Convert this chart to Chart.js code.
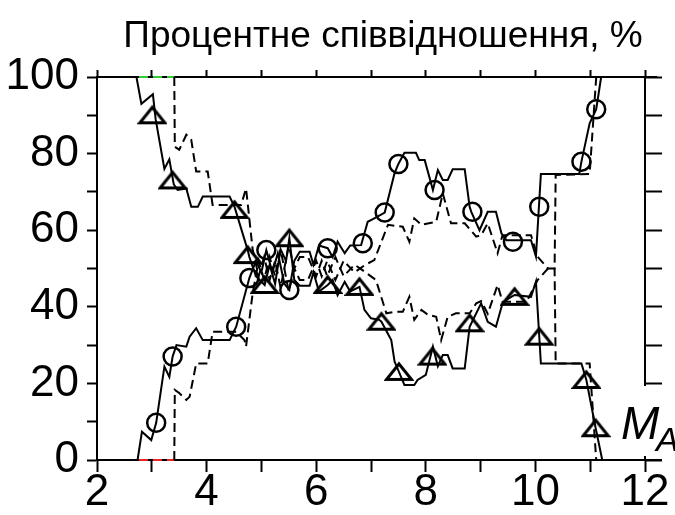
<!DOCTYPE html>
<html>
<head>
<meta charset="utf-8">
<script src="https://cdn.jsdelivr.net/npm/chart.js@4.4.1/dist/chart.umd.min.js"></script>
<style>
html,body{margin:0;padding:0;background:#fff;}
</style>
</head>
<body>
<canvas id="mycanvas" width="675" height="515"></canvas>
<script>
// solid line going down (with triangles)
var sdX = [2.0, 2.72, 2.81, 3.02, 3.07, 3.23, 3.32, 3.4, 3.47, 3.63, 3.72, 3.84, 3.93, 4.42, 4.51, 4.75,
  4.78, 4.9, 5.06, 5.15, 5.25, 5.35, 5.45, 5.51, 5.6, 5.7, 5.88, 5.95, 6.05, 6.21, 6.3, 6.39, 6.52, 6.62, 6.79,
  6.88, 7.0, 7.15, 7.19, 7.37, 7.43, 7.51, 7.61, 7.79, 7.85, 8.0, 8.13, 8.22, 8.31, 8.4, 8.49, 8.71, 8.8,
  9.01, 9.13, 9.28, 9.4, 9.47, 9.62, 9.92, 10.01, 10.1, 10.84, 10.93, 11.1, 11.22];
var sdY = [100, 100, 93, 95.5, 89, 76, 78.5, 72, 70.5, 70.9, 66.1, 66.1, 68.8, 68.8, 66.1, 54.8,
  53, 48, 45.7, 51, 46, 55, 52, 57.9, 47, 45.5, 45.5, 49, 44, 45.7, 47, 43, 46.5, 44, 45.2,
  39.2, 37, 36.6, 36.1, 31.3, 25.7, 23, 19.6, 19.6, 20.9, 22.2, 29.6, 24.5, 27.4, 27.4, 23.9, 23.9, 34.8,
  40.9, 36.1, 34.8, 40.9, 41.8, 43.1, 42.6, 46.6, 25.2, 25.2, 20.9, 8.3, 0];

// solid line going up (with circles)
var suX = [2.0, 2.74, 2.82, 2.99, 3.08, 3.23, 3.32, 3.38, 3.45, 3.63, 3.69, 3.81, 3.93, 4.42, 4.54, 4.78,
  4.9, 5.0, 5.09, 5.2, 5.3, 5.42, 5.51, 5.6, 5.7, 5.88, 5.95, 6.05, 6.21, 6.3, 6.39, 6.52, 6.62, 6.82,
  6.94, 7.06, 7.25, 7.43, 7.5, 7.61, 7.82, 7.88, 7.98, 8.13, 8.22, 8.31, 8.4, 8.49, 8.71, 8.8, 8.83,
  8.98, 9.13, 9.28, 9.38, 9.47, 9.59, 9.92, 10.01, 10.1, 10.8, 10.84, 10.99, 11.11, 11.2];
var suY = [0, 0, 7.4, 5.2, 9.7, 24.4, 21.7, 27, 30, 29.6, 32.2, 34.4, 31.3, 31.3, 34.8, 47.5,
  52, 49, 54.8, 49, 54, 46, 44.4, 52, 54.4, 54.4, 51, 56, 55.3, 53, 57, 54, 56, 56.1,
  62.2, 63.1, 64.6, 74.9, 77.3, 80.2, 80.2, 78.3, 78.3, 70.5, 75.7, 73.1, 73.1, 75.9, 75.9, 66.1, 64.8,
  60, 64.8, 64.8, 59.2, 57.4, 57.4, 57.4, 53.1, 74.7, 74.7, 77.9, 87.9, 91.6, 100];

// dashed line going down
var ddX = [2.0, 3.41, 3.42, 3.5, 3.63, 3.72, 3.81, 4.02, 4.11, 4.63, 4.72, 4.84, 4.95, 5.05, 5.15, 5.25,
  5.35, 5.5, 5.6, 5.7, 5.85, 6.0, 6.1, 6.2, 6.35, 6.5, 6.7, 6.9, 7.09, 7.28, 7.43, 7.58, 7.7, 7.79, 7.92,
  8.04, 8.19, 8.28, 8.4, 8.55, 8.8, 8.92, 9.01, 9.13, 9.31, 9.4, 9.84, 10.04, 10.23, 10.35, 10.37, 10.99,
  11.05, 11.11];
var ddY = [100, 100, 81.8, 81, 84.9, 83.6, 75.3, 75.3, 66.6, 66.6, 70.9, 55, 48, 53, 47, 52,
  45, 56, 50, 53, 53, 48, 52, 48, 53, 48, 51, 49, 47, 38.3, 38.7, 38.7, 42.6, 36.6, 39.2,
  37.9, 37.4, 31.3, 37.4, 38.3, 38.3, 40.9, 41.5, 38.2, 45.7, 41.3, 41.3, 47, 50, 50, 25.2, 25.2,
  12.6, 0];

// dashed line going up
var duX = [2.0, 3.41, 3.42, 3.5, 3.63, 3.69, 3.81, 4.02, 4.11, 4.54, 4.69, 4.72, 4.84, 4.95, 5.05, 5.15,
  5.25, 5.35, 5.5, 5.6, 5.7, 5.85, 6.0, 6.1, 6.2, 6.35, 6.5, 6.7, 6.9, 7.06, 7.31, 7.58, 7.7, 7.79, 7.92,
  8.19, 8.31, 8.46, 8.71, 8.92, 9.01, 9.13, 9.31, 9.4, 9.74, 9.92, 10.04, 10.23, 10.35, 10.37, 10.99,
  11.05, 11.11];
var duY = [0, 0, 18.3, 17.5, 15.7, 16.5, 25.2, 25.2, 33.5, 33.5, 31.3, 29.6, 43.5, 52, 47, 53,
  48, 55, 44, 50, 47, 47, 52, 48, 52, 47, 52, 49, 51, 52.2, 61.4, 60.9, 57, 63.1, 61.4,
  62.2, 69.6, 61.8, 61.8, 58.3, 58.7, 61.8, 54, 58.7, 58.7, 58.7, 53.1, 50, 50, 74.4, 74.7,
  87.4, 100];

// markers
var triX = [3.01, 3.38, 4.51, 4.75, 5.06, 5.51, 6.21, 6.79, 7.19, 7.51, 8.12, 8.8, 9.62, 10.07, 10.93, 11.1];
var triY = [90, 73, 65.3, 53.5, 45.7, 57.9, 45.7, 45.2, 36.1, 23, 27, 35.7, 42.6, 32.2, 20.9, 8.3];
var cirX = [3.08, 3.38, 4.54, 4.78, 5.09, 5.51, 6.21, 6.85, 7.25, 7.5, 8.16, 8.85, 9.59, 10.07, 10.84, 11.11];
var cirY = [9.7, 27, 34.8, 47.5, 54.8, 44.4, 55.3, 56.6, 64.6, 77.3, 70.5, 64.8, 57, 66.1, 77.9, 91.6];

var xTicks = [2, 4, 6, 8, 10, 12];
var yTicks = [0, 20, 40, 60, 80, 100];

var fontFam = "'Liberation Sans', Arial, sans-serif";

function pts(xs, ys) {
  return xs.map(function(x, i){ return {x: x, y: ys[i]}; });
}

// flat open triangle marker
function makeTri() {
  var c = document.createElement('canvas');
  c.width = 30; c.height = 22;
  var g = c.getContext('2d');
  g.strokeStyle = '#000';
  g.lineWidth = 3;
  g.lineJoin = 'miter';
  g.beginPath();
  g.moveTo(15, 3);
  g.lineTo(27.5, 18.5);
  g.lineTo(2.5, 18.5);
  g.closePath();
  g.stroke();
  return c;
}
var triImg = makeTri();

var greenTop = function(ctx) {
  return (ctx.p0.parsed.y === 100 && ctx.p1.parsed.y === 100) ? '#33cc33' : undefined;
};
var redBottom = function(ctx) {
  return (ctx.p0.parsed.y === 0 && ctx.p1.parsed.y === 0) ? '#ee2222' : undefined;
};

var frame = {
  id: 'frame',
  afterDraw: function(chart) {
    var ctx = chart.ctx, a = chart.chartArea;
    ctx.save();
    // white box behind the axis label
    ctx.fillStyle = '#fff';
    ctx.fillRect(a.right - 4, 386, 40, 70);
    ctx.strokeStyle = '#000';
    ctx.lineWidth = 2;
    ctx.beginPath();
    ctx.moveTo(a.right, a.bottom); ctx.lineTo(a.right + 17, a.bottom);
    ctx.moveTo(a.right, a.top); ctx.lineTo(a.right + 12, a.top);
    ctx.stroke();
    // title
    ctx.fillStyle = '#000';
    ctx.textAlign = 'center';
    ctx.textBaseline = 'alphabetic';
    ctx.font = '37px ' + fontFam;
    ctx.fillText('Процентне співвідношення, %', 383, 47);
    // axis name
    ctx.textAlign = 'left';
    ctx.font = 'italic 46px ' + fontFam;
    ctx.fillText('M', 621, 439);
    ctx.font = 'italic 34px ' + fontFam;
    ctx.fillText('A', 656, 451);
    ctx.restore();
  }
};

var ctx = document.getElementById('mycanvas');

var chart = new Chart(ctx, {
  type: 'line',
  data: {
    datasets: [
      {
        label: 'tri',
        data: pts(triX, triY),
        showLine: false,
        pointStyle: triImg,
        pointRadius: 10,
        clip: false
      },
      {
        label: 'cir',
        data: pts(cirX, cirY),
        showLine: false,
        pointStyle: 'circle',
        pointRadius: 9,
        pointBorderWidth: 2.5,
        pointBorderColor: '#000',
        pointBackgroundColor: 'rgba(0,0,0,0)',
        clip: false
      },
      {
        label: 'down',
        data: pts(sdX, sdY),
        borderColor: '#000',
        borderWidth: 2,
        pointRadius: 0,
        clip: false
      },
      {
        label: 'up',
        data: pts(suX, suY),
        borderColor: '#000',
        borderWidth: 2,
        pointRadius: 0,
        clip: false
      },
      {
        label: 'down dashed',
        data: pts(ddX, ddY),
        borderColor: '#000',
        borderWidth: 2,
        borderDash: [9, 5],
        pointRadius: 0,
        clip: false,
        segment: {borderColor: greenTop}
      },
      {
        label: 'up dashed',
        data: pts(duX, duY),
        borderColor: '#000',
        borderWidth: 2,
        borderDash: [9, 5],
        pointRadius: 0,
        clip: false,
        segment: {borderColor: redBottom}
      }
    ]
  },
  options: {
    responsive: false,
    animation: false,
    events: [],
    layout: {padding: 0},
    elements: {line: {tension: 0}},
    plugins: {
      legend: {display: false},
      tooltip: {enabled: false},
      title: {display: false}
    },
    scales: {
      x: {
        type: 'linear', position: 'bottom', min: 2, max: 12,
        afterFit: function(s){ s.height = 55; },
        afterBuildTicks: function(s){ s.ticks = [2,3,4,5,6,7,8,9,10,11,12].map(function(v){ return {value: v}; }); },
        ticks: {
          autoSkip: false, maxRotation: 0, color: '#000', padding: -6,
          font: {family: fontFam, size: 44},
          callback: function(v){ return xTicks.indexOf(v) >= 0 ? String(v) : ''; }
        },
        grid: {drawOnChartArea: false, tickLength: 12, tickWidth: 2, tickColor: '#000'},
        border: {color: '#000', width: 2}
      },
      x2: {
        type: 'linear', position: 'top', min: 2, max: 12,
        afterFit: function(s){ s.height = 77; },
        afterBuildTicks: function(s){ s.ticks = [2,3,4,5,6,7,8,9,10,11,12].map(function(v){ return {value: v}; }); },
        ticks: {display: false},
        grid: {drawOnChartArea: false, tickLength: 7, tickWidth: 2, tickColor: '#000'},
        border: {color: '#000', width: 2}
      },
      y: {
        type: 'linear', position: 'left', min: 0, max: 100,
        afterFit: function(s){ s.width = 97; },
        ticks: {
          stepSize: 10, autoSkip: false, color: '#000', padding: 8,
          font: {family: fontFam, size: 44},
          callback: function(v){ return yTicks.indexOf(v) >= 0 ? String(v) : ''; }
        },
        grid: {drawOnChartArea: false, tickLength: 10, tickWidth: 2, tickColor: '#000'},
        border: {color: '#000', width: 2}
      },
      y2: {
        type: 'linear', position: 'right', min: 0, max: 100,
        afterFit: function(s){ s.width = 30; },
        ticks: {display: false, stepSize: 10},
        grid: {drawOnChartArea: false, tickLength: 17, tickWidth: 2, tickColor: '#000'},
        border: {color: '#000', width: 2}
      }
    }
  },
  plugins: [frame]
});
</script>
</body>
</html>
